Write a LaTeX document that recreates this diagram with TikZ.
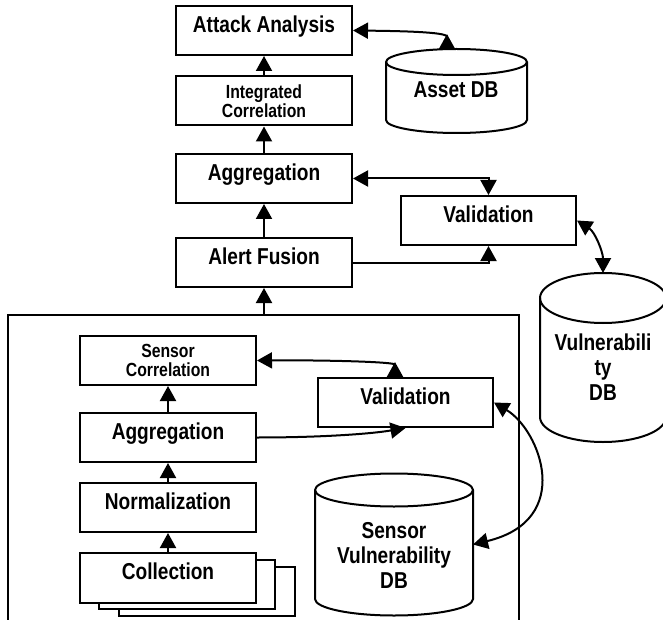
\documentclass[tikz,border=0pt]{standalone}
\usepackage{fontspec}
\setmainfont{Liberation Sans}[FakeStretch=0.83]
\usetikzlibrary{arrows.meta}

\newcommand\bigtxt{\fontsize{23}{25}\selectfont\bfseries}
\newcommand\smalltxt{\fontsize{19}{19.5}\selectfont\bfseries}

% cylinder outline around an invisible body node: name, x radius, y radius
\newcommand\dbdraw[3]{%
  \draw[line width=2pt, fill=white]
    (#1.north west) arc[start angle=180, end angle=0, x radius=#2, y radius=#3]
    -- (#1.south east) arc[start angle=0, end angle=-180, x radius=#2, y radius=#3]
    -- cycle;
  \draw[line width=2pt]
    (#1.north west) arc[start angle=180, end angle=360, x radius=#2, y radius=#3];}

\tikzset{
  stage/.style={draw, line width=2pt, fill=white, minimum width=176pt,
    minimum height=49pt, inner sep=0pt, font=\bigtxt,
    text height=16.5pt, text depth=13pt},
  stagesmall/.style={draw, line width=2pt, fill=white, minimum width=176pt,
    minimum height=49pt, inner sep=0pt, font=\smalltxt, align=center},
  checkbox/.style={stage, minimum width=175pt},
  dbbody/.style={inner sep=0pt, outer sep=0pt},
  dblabel/.style={inner sep=0pt, font=\bigtxt, align=center},
  link/.style={line width=2pt},
  >={Triangle[length=15pt, width=16pt]},
  backtip/.style={arrows={Triangle[length=15pt,width=16pt]-Triangle[reversed,length=15pt,width=16pt]}},
}

\begin{document}
\begin{tikzpicture}[x=1pt, y=1pt]
\useasboundingbox (0,0) rectangle (663,-620);

% outer sensor frame (open at the bottom)
\draw[line width=2pt] (8,-622) -- (8,-315) -- (519,-315) -- (519,-622);
\coordinate (ftop) at (264,-315);

% upper chain
\node[stage] (attack) at (264,-30.5) {Attack Analysis};
\node[stagesmall] (integ) at (264,-101) {Integrated\\Correlation};
\node[stage] (agg) at (264,-178.5) {Aggregation};
\node[stage] (alert) at (264,-262.5) {Alert Fusion};
\node[checkbox] (val1) at (488.5,-220.5) {Validation};

% sensor chain
\node[stagesmall] (scor) at (168,-360.5) {Sensor\\Correlation};
\node[checkbox] (val2) at (405.5,-402.5) {Validation};
\node[stage] (agg2) at (168,-437.5) {Aggregation};
\node[stage] (norm) at (168,-507.5) {Normalization};
\node[stage] (coll3) at (207,-591) {};
\node[stage] (coll2) at (187,-584.5) {};
\node[stage, minimum height=50pt] (coll) at (168,-578) {Collection};

% databases
\node[dbbody, minimum width=141pt, minimum height=58pt] (adb) at (456.5,-91) {};
\dbdraw{adb}{70.5pt}{13pt}
\node[dblabel] (adbt) at (456,-90) {Asset DB};

\node[dbbody, minimum width=126pt, minimum height=119pt] (vdb) at (603,-357.5) {};
\dbdraw{vdb}{63pt}{25pt}
\node[dblabel] (vdbt) at (603,-367) {Vulnerabili\\ty\\DB};

\node[dbbody, minimum width=158pt, minimum height=109pt] (sdb) at (394,-544.5) {};
\dbdraw{sdb}{79pt}{16.5pt}
\node[dblabel] (sdbt) at (394,-555) {Sensor\\Vulnerability\\DB};

% vertical flow arrows
\draw[link,->] (integ) -- (attack);
\draw[link,->] (agg) -- (integ);
\draw[link,->] (alert) -- (agg);
\draw[link,->] (ftop) -- (alert);
\draw[link,->] (agg2) -- (scor);
\draw[link,->] (norm) -- (agg2);
\draw[link,->] (coll) -- (norm);

% links to validation and databases
\draw[link,backtip]
  (attack.east) .. controls (400,-31) and (447,-32) .. ([shift={(-9.5pt,12.9pt)}]adb.north);
\draw[link,<->] (agg.east) -| (val1.north);
\draw[link,->] (alert.east) -| (val1.south);
\draw[link,<->] (val1.east) .. controls (595,-232) and (603,-252) .. ([yshift=25pt]vdb.north);

\draw[link,backtip]
  (scor.east) .. controls (330,-360) and (395,-362) .. ([xshift=-10.5pt]val2.north);
\draw[link,->] (agg2.east) .. controls (320,-437.5) and (370,-434) .. (val2.south);
\draw[link,<->] (val2.east) .. controls (540,-430) and (575,-520) .. (sdb.east);
\end{tikzpicture}
\end{document}
